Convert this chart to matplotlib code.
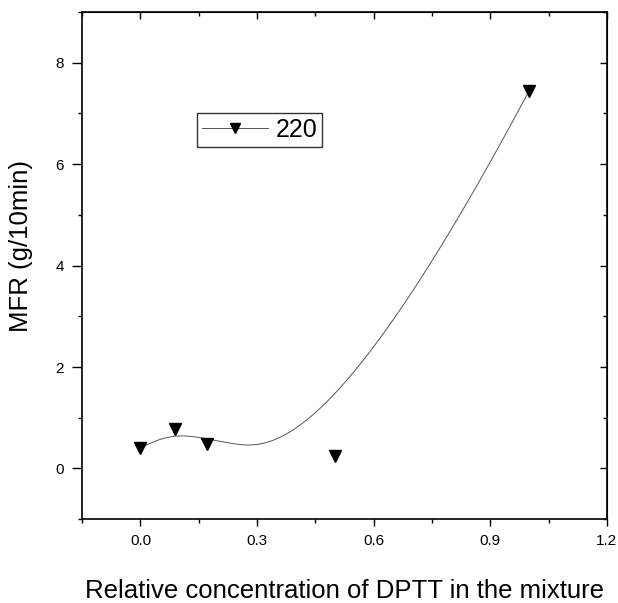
import numpy as np
import matplotlib.pyplot as plt
from matplotlib.ticker import MultipleLocator

plt.rcParams['font.family'] = ['Liberation Sans', 'DejaVu Sans']

# Data
conc = [0.0, 0.09, 0.17, 0.50, 1.00]
mfr = [0.40, 0.78, 0.48, 0.25, 7.45]
series_label = "220"


def bspline(px, py, n=300, k=3):
    # clamped B-spline through the data points as control points (Origin style)
    m = len(px)
    inner = np.linspace(0, 1, m - k + 1)[1:-1]
    t = np.concatenate([np.zeros(k + 1), inner, np.ones(k + 1)])
    u = np.linspace(0, 1, n)

    def basis(i, d, x):
        if d == 0:
            if t[i + 1] == 1.0 and t[i] < 1.0:
                return ((x >= t[i]) & (x <= t[i + 1])).astype(float)
            return ((x >= t[i]) & (x < t[i + 1])).astype(float)
        a = 0.0
        b = 0.0
        if t[i + d] != t[i]:
            a = (x - t[i]) / (t[i + d] - t[i]) * basis(i, d - 1, x)
        if t[i + d + 1] != t[i + 1]:
            b = (t[i + d + 1] - x) / (t[i + d + 1] - t[i + 1]) * basis(i + 1, d - 1, x)
        return a + b

    B = np.array([basis(i, k, u) for i in range(m)])
    return B.T @ np.array(px), B.T @ np.array(py)


fig = plt.figure(figsize=(6.18, 6.03), dpi=100)
ax = fig.add_axes([0.133, 0.139, 0.849, 0.841])

cx, cy = bspline(conc, mfr)
ax.plot(cx, cy, color="#555555", lw=0.7)
ax.plot(conc, mfr, linestyle="none", marker="v", color="black", markersize=8)

# legend proxy
ax.plot([], [], color="#555555", lw=0.7, marker="v", markerfacecolor="black",
        markeredgecolor="black", markersize=7, label=series_label)
leg = ax.legend(loc="upper left", bbox_to_anchor=(0.219, 0.801), fontsize=18,
                frameon=True, fancybox=False, handlelength=2.65, borderpad=0.2,
                handletextpad=0.28, borderaxespad=0)
leg.get_frame().set_edgecolor("black")
leg.get_frame().set_linewidth(1.0)

ax.set_xlim(-0.15, 1.2)
ax.set_ylim(-1, 9)
ax.xaxis.set_major_locator(MultipleLocator(0.3))
ax.xaxis.set_minor_locator(MultipleLocator(0.15))
ax.yaxis.set_major_locator(MultipleLocator(2))
ax.yaxis.set_minor_locator(MultipleLocator(1))
ax.set_xticks([0.0, 0.3, 0.6, 0.9, 1.2])
ax.set_xticklabels(["0.0", "0.3", "0.6", "0.9", "1.2"])
ax.set_yticks([0, 2, 4, 6, 8])
ax.tick_params(which="major", direction="out", length=5, labelsize=11, width=1, pad=6)
ax.tick_params(axis="y", which="major", length=7)
ax.tick_params(which="minor", direction="out", length=3, width=1)

# inward ticks on top and right
top = ax.secondary_xaxis("top")
top.set_xticks([0.0, 0.3, 0.6, 0.9, 1.2])
top.xaxis.set_minor_locator(MultipleLocator(0.15))
top.tick_params(which="both", direction="in", labeltop=False, length=5, width=1)
top.tick_params(which="minor", length=3)
right = ax.secondary_yaxis("right")
right.set_yticks([0, 2, 4, 6, 8])
right.yaxis.set_minor_locator(MultipleLocator(1))
right.tick_params(which="both", direction="in", labelright=False, length=5, width=1)
right.tick_params(which="minor", length=3)

for s in ax.spines.values():
    s.set_linewidth(1.2)

ax.set_xlabel("Relative concentration of DPTT in the mixture", fontsize=18.5, labelpad=22)
ax.set_ylabel("MFR (g/10min)", fontsize=18.5)
ax.yaxis.set_label_coords(-0.093, 0.538)

fig.savefig("out.png", dpi=100)
